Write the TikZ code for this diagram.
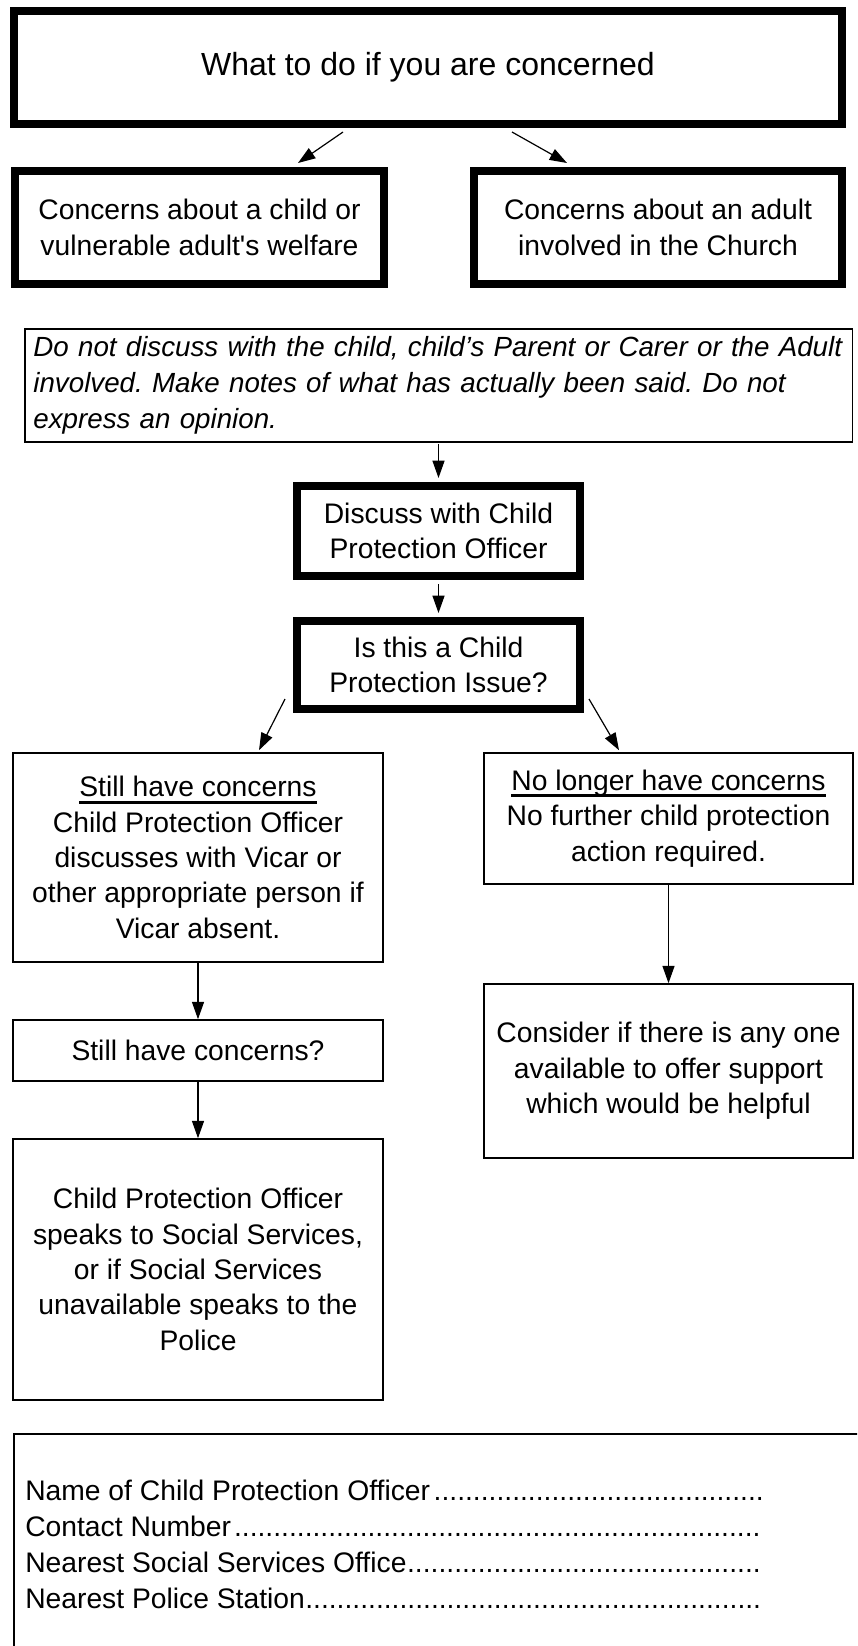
\documentclass[tikz,border=0pt]{standalone}
\usepackage{fontspec}
\setmainfont{Liberation Sans}
\usetikzlibrary{arrows.meta,calc}
\newcommand\myul[1]{\setbox0\hbox{#1}\rlap{\rule[-5pt]{\wd0}{2pt}}\box0}
\newcommand\mydots{\cleaders\hbox{.}\hfill}
\begin{document}
\frenchspacing
\begin{tikzpicture}[x=0.75pt,y=-0.75pt,
  bodytext/.style={font=\fontsize{21.2}{26.5}\selectfont},
  thickbox/.style={draw, line width=6pt, inner sep=0pt, align=center, bodytext},
  thinbox/.style={draw, line width=1.2pt, inner sep=0pt, align=center, bodytext},
  arr/.style={line width=0.9pt, -{Triangle[length=13pt,width=9pt]}},
]
\useasboundingbox (0,0) rectangle (857,1646);
\clip (0,0) rectangle (857,1646);
\fill[white] (0,0) rectangle (857,1646);

% thick boxes
\node[thickbox, minimum width=621pt, minimum height=84.75pt, font=\fontsize{24}{28}\selectfont] (title) at (428,67.5) {What to do if you are concerned};
\node[thickbox, minimum width=276.75pt, minimum height=84.75pt] (boxA) at (199.5,227.5) {Concerns about a child or\\vulnerable adult\textquotesingle s welfare};
\node[thickbox, minimum width=276pt, minimum height=84.75pt] (boxB) at (658,227.5) {Concerns about an adult\\involved in the Church};

% italic instruction box
\node[thinbox, align=left, text width=608pt, inner xsep=6.4pt, minimum height=84.75pt, font=\fontsize{20.8}{27}\selectfont\itshape] (italic) at (438.75,385.5) {Do not discuss with the child, child’s Parent or Carer or the Adult\\involved. Make notes of what has actually been said. Do not\\express an opinion.};

\node[thickbox, minimum width=212.25pt, minimum height=67.5pt] (discuss) at (438.5,531) {Discuss with Child\\Protection Officer};
\node[thickbox, minimum width=212.25pt, minimum height=66pt] (issue) at (438.5,665) {Is this a Child\\Protection Issue?};

% branches
\node[thinbox, minimum width=277.5pt, minimum height=156.75pt] (left) at (198,857.5) {\myul{Still have concerns}\\Child Protection Officer\\discusses with Vicar or\\other appropriate person if\\Vicar absent.};
\node[thinbox, minimum width=276.75pt, minimum height=98.25pt] (right) at (668.5,818.5) {\myul{No longer have concerns}\\No further child protection\\action required.};
\node[thinbox, minimum width=276.75pt, minimum height=130.5pt] (consider) at (668.5,1071) {Consider if there is any one\\available to offer support\\which would be helpful};
\node[thinbox, minimum width=277.5pt, minimum height=45.75pt] (stillq) at (198,1050.5) {Still have concerns?};
\node[thinbox, minimum width=277.5pt, minimum height=195.75pt] (police) at (198,1269.5) {Child Protection Officer\\speaks to Social Services,\\or if Social Services\\unavailable speaks to the\\Police};

% footer
\node[thinbox, anchor=north west, minimum width=700pt, minimum height=250pt] (footer) at (13,1433) {};
\node[anchor=west, inner sep=0pt, align=left, font=\fontsize{21.2}{27}\selectfont] (fields) at (25,1544) {\makebox[556.5pt][l]{Name of Child Protection Officer\mydots}\\
\makebox[553.5pt][l]{Contact Number\mydots}\\
\makebox[552pt][l]{Nearest Social Services Office\mydots}\\
\makebox[552pt][l]{Nearest Police Station\mydots}};

% connectors
\draw[arr] ($(title.south)+(-85,4)$) -- ($(boxA.north)+(98.5,-4)$);
\draw[arr] ($(title.south)+(84,4)$) -- ($(boxB.north)+(-91,-4)$);
\draw[arr] ($(discuss.north |- italic.south)+(0,1)$) -- ($(discuss.north)+(0,-4)$);
\draw[arr] ($(discuss.south)+(0,4)$) -- ($(issue.north)+(0,-4)$);
\draw[arr] ($(issue.south west)+(-8,-14)$) -- ($(left.north)+(61,-2)$);
\draw[arr] ($(issue.south east)+(5,-14)$) -- ($(right.north)+(-49.5,-2)$);
\draw[arr] (right.south) -- (consider.north);
\draw[arr] (left.south) -- (stillq.north);
\draw[arr] (stillq.south) -- (police.north);
\end{tikzpicture}
\end{document}
